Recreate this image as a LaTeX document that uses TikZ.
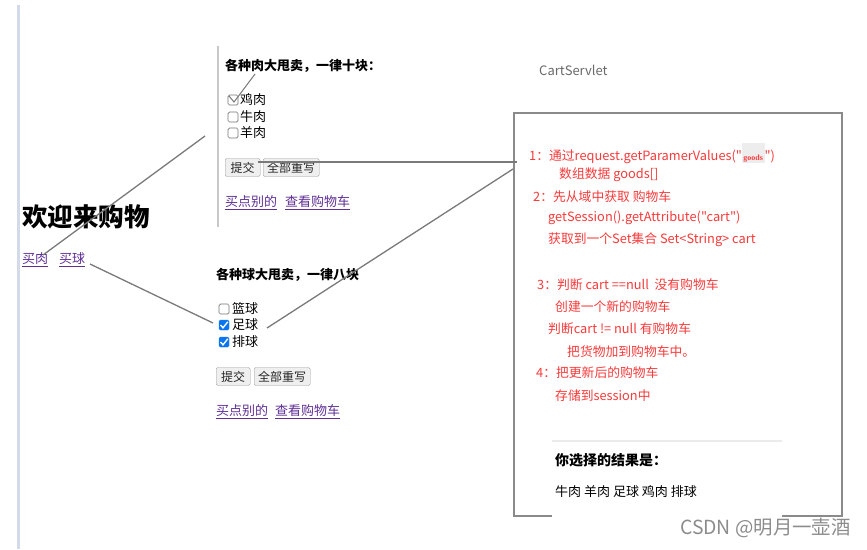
\documentclass[tikz,border=0pt]{standalone}
\usepackage{fontspec}
\setmainfont{Noto Sans CJK SC}[Ligatures=TeXOff]
\newfontfamily\smallserif{Liberation Serif}
\definecolor{redtxt}{HTML}{F83A3A}
\definecolor{linkc}{HTML}{5F2F94}
\definecolor{linegray}{HTML}{7A7A7A}
\definecolor{boxgray}{HTML}{8A8A8A}
\definecolor{leftbar}{HTML}{D3DAEA}
\definecolor{divgray}{HTML}{C8C8C8}
\definecolor{btnborder}{HTML}{9A9A9A}
\definecolor{btnfill}{HTML}{EFEFEF}
\definecolor{cbgray}{HTML}{767676}
\definecolor{cbblue}{HTML}{0A75F0}
\definecolor{servgray}{HTML}{6A6A6A}
\begin{document}
\begin{tikzpicture}[x=1pt,y=-1pt,
  txt/.style={inner sep=0pt, anchor=west, font=\fontsize{13}{15}\selectfont},
  boldtxt/.style={txt, font=\fontsize{13}{15}\selectfont\bfseries},
  redline/.style={txt, text=redtxt, font=\fontsize{12.8}{15}\selectfont},
  lnk/.style={txt, text=linkc},
  btn/.style={draw=btnborder, fill=btnfill, rounded corners=1.5pt, inner sep=0pt,
    minimum height=18pt, anchor=west, font=\fontsize{12}{14}\selectfont, text=black!85},
  cb/.style={draw=cbgray, rounded corners=1.5pt, minimum size=10pt, inner sep=0pt, line width=0.7pt},
  cbon/.style={fill=cbblue, draw=cbblue, rounded corners=1.5pt, minimum size=10pt, inner sep=0pt},
  tick/.style={draw=white, line width=1.4pt},
  conn/.style={draw=linegray, line width=1.3pt},
]
\useasboundingbox (0,0) rectangle (867,549);
\fill[white] (0,0) rectangle (867,549);

% left bar and divider
\draw[leftbar, line width=3pt] (18,5) -- (18,549);
\draw[divgray, line width=1.5pt] (218,46) -- (218,227);

% welcome
\node[txt, font=\fontsize{25.5}{28}\selectfont\bfseries] (welcome) at (22,217) {欢迎来购物};
\node[lnk] (buyMeat) at (22,260) {\underline{买肉}};
\node[lnk] (buyBall) at (59,260) {\underline{买球}};

% meat section
\node[boldtxt] (meatTitle) at (225,66) {各种肉大甩卖，一律十块：};
\node[cb] (cbChicken) at (233,100) {};
\node[txt] (lChicken) at (240,100) {鸡肉};
\node[cb] (cbBeef) at (233,117) {};
\node[txt] (lBeef) at (240,117) {牛肉};
\node[cb] (cbMutton) at (233,133) {};
\node[txt] (lMutton) at (240,133) {羊肉};
\node[btn, minimum width=35pt] (meatSubmit) at (225,167.5) {提交};
\node[btn, minimum width=56pt] (meatReset) at (263,167.5) {全部重写};
\node[lnk] (meatOther) at (225,203) {\underline{买点别的}};
\node[lnk] (meatCart) at (285,203) {\underline{查看购物车}};

% ball section
\node[boldtxt] (ballTitle) at (216,275) {各种球大甩卖，一律八块};
\node[cb] (cbBasket) at (224,309) {};
\node[txt] (lBasket) at (232,309) {篮球};
\node[cbon] (cbFoot) at (224,325) {};
\draw[tick] (220.5,325) -- (223,327.8) -- (227.8,321.8);
\node[txt] (lFoot) at (232,325) {足球};
\node[cbon] (cbVolley) at (224,342) {};
\draw[tick] (220.5,342) -- (223,344.8) -- (227.8,338.8);
\node[txt] (lVolley) at (232,342) {排球};
\node[btn, minimum width=34pt] (ballSubmit) at (216,376.5) {提交};
\node[btn, minimum width=56pt] (ballReset) at (254,376.5) {全部重写};
\node[lnk] (ballOther) at (216,412) {\underline{买点别的}};
\node[lnk] (ballCart) at (275,412) {\underline{查看购物车}};

% servlet
\node[txt, text=servgray, font=\fontsize{13}{15}\selectfont] (servlet) at (539,70) {CartServlet};
\node[draw=boxgray, line width=1.5pt, minimum width=328pt, minimum height=403pt, anchor=north west, inner sep=0pt] (box) at (513,112) {};

\node[redline] (r1) at (529,153) {1：通过request.getParamerValues("{\setlength\fboxsep{1.5pt}\colorbox{black!7}{\rule{0pt}{16pt}\smallserif\fontsize{8}{8}\selectfont\bfseries goods}}")};
\node[redline] (r2) at (559,175) {数组数据 goods[]};
\node[redline] (r3) at (533,197) {2：先从域中获取 购物车};
\node[redline] (r4) at (548,218) {getSession().getAttribute("cart")};
\node[redline] (r5) at (548,240) {获取到一个Set集合 Set<String> cart};
\node[redline] (r6) at (537,285) {3：判断 cart ==null~ 没有购物车};
\node[redline] (r7) at (555,307) {创建一个新的购物车};
\node[redline] (r8) at (548,329) {判断cart != null 有购物车};
\node[redline] (r9) at (567,352) {把货物加到购物车中。};
\node[redline] (r10) at (536,373) {4：把更新后的购物车};
\node[redline] (r11) at (555,396) {存储到session中};

% result panel
\fill[white] (552,441) rectangle (782,522);
\draw[black!8, line width=1.5pt] (552,441) -- (782,441);
\node[boldtxt, font=\fontsize{14}{16}\selectfont\bfseries] (resTitle) at (555,460) {你选择的结果是：};
\node[txt] (resList) at (555,492) {牛肉 羊肉 足球 鸡肉 排球};

% watermark
\node[txt, text=black!45, font=\fontsize{19.4}{21}\selectfont] (mark) at (680,528) {CSDN @明月一壶酒};

% connectors
\coordinate (chkTop) at (255,74);
\coordinate (chkA) at (229,96);
\coordinate (chkB) at (234,102);
\draw[conn, line width=1pt] (chkA) -- (chkB) -- (chkTop);

\coordinate (meatStart) at (258,162);
\coordinate (meatEnd) at (517,162);
\draw[conn] (meatStart) -- (meatEnd);

\coordinate (footStart) at (267,328);
\coordinate (footEnd) at (513,169);
\draw[conn] (footStart) -- (footEnd);

\coordinate (bmStart) at (43,255);
\coordinate (bmEnd) at (205,136);
\draw[conn] (bmStart) -- (bmEnd);

\coordinate (bbStart) at (90,264);
\coordinate (bbEnd) at (213,323);
\draw[conn] (bbStart) -- (bbEnd);
\end{tikzpicture}
\end{document}
